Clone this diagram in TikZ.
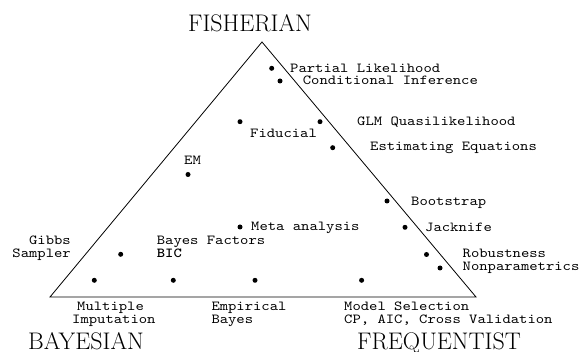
\documentclass[tikz,border=0pt]{standalone}
\usepackage{fontspec}
\newfontfamily\lblfont[FakeStretch=1.15,BoldFont=lmmonolt10-bold.otf]{lmmono10-regular.otf}
\usepackage{tikz}

\tikzset{
  dot/.style={circle,fill,inner sep=0pt,minimum size=5pt},
  lbl/.style={inner sep=0pt,anchor=base west,font=\lblfont\fontsize{13.8}{13}\selectfont},
  corner/.style={inner sep=0pt,anchor=base,font=\fontsize{24}{26}\selectfont}
}

\begin{document}
\begin{tikzpicture}[x=1pt,y=-1pt]
  \useasboundingbox (0,0) rectangle (586,352);
  % triangle
  \coordinate (top) at (262,42);
  \coordinate (bl) at (50,297);
  \coordinate (br) at (476,297);
  \draw[line width=0.8pt] (top) -- (bl) -- (br) -- cycle;
  \node[corner] (fisher) at (250,32) {FISHERIAN};
  \node[corner] (bayes) at (86,349.5) {BAYESIAN};
  \node[corner,anchor=base east] (freq) at (521,349.5) {FREQUENTIST};
  % points
  \node[dot] (partial) at (271.7,68.3) {};
  \node[dot] (cond) at (280,81) {};
  \node[dot] (fid) at (240,121.7) {};
  \node[dot] (glm) at (320,121.7) {};
  \node[dot] (esteq) at (332.7,147.7) {};
  \node[dot] (em) at (188,174.5) {};
  \node[dot] (boot) at (387,201) {};
  \node[dot] (meta) at (240,227) {};
  \node[dot] (jack) at (405,227.3) {};
  \node[dot] (gibbs) at (120.7,254.3) {};
  \node[dot] (robust) at (426.5,254.5) {};
  \node[dot] (nonpar) at (440,268) {};
  \node[dot] (mult) at (94.3,280.3) {};
  \node[dot] (bic) at (173.3,280.3) {};
  \node[dot] (emp) at (255,280.3) {};
  \node[dot] (msel) at (361.6,280.3) {};
  % labels
  \node[lbl] (partial-l) at (290,72.5) {Partial Likelihood};
  \node[lbl] (cond-l) at (302.7,85) {Conditional Inference};
  \node[lbl] (glm-l) at (357,125.5) {GLM Quasilikelihood};
  \node[lbl] (fid-l) at (250,137.5) {Fiducial};
  \node[lbl] (esteq-l) at (370,151) {Estimating Equations};
  \node[lbl] (em-l) at (184,165) {EM};
  \node[lbl] (boot-l) at (411,205.5) {Bootstrap};
  \node[lbl] (meta-l) at (251,231) {Meta analysis};
  \node[lbl] (jack-l) at (425,231.5) {Jacknife};
  \node[lbl,anchor=base east] (gibbs-l) at (71,244.5) {Gibbs};
  \node[lbl,anchor=base east] (gibbs-l2) at (71,257.5) {Sampler};
  \node[lbl] (bic-l) at (156.7,244.5) {Bayes Factors};
  \node[lbl] (bic-l2) at (156.7,257.5) {\bfseries BIC};
  \node[lbl] (robust-l) at (462.5,257.5) {Robustness};
  \node[lbl] (nonpar-l) at (462.5,271) {Nonparametrics};
  \node[lbl] (mult-l) at (77,311) {Multiple};
  \node[lbl] (mult-l2) at (72,323.5) {Imputation};
  \node[lbl] (emp-l) at (211.3,311) {Empirical};
  \node[lbl] (emp-l2) at (211.3,323.5) {Bayes};
  \node[lbl] (msel-l) at (344,311) {Model Selection};
  \node[lbl] (msel-l2) at (344,323.5) {CP, AIC, Cross Validation};
\end{tikzpicture}
\end{document}
